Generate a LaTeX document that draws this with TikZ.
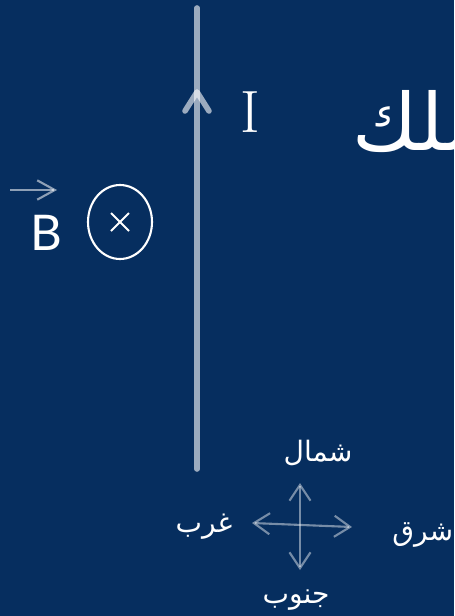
\documentclass[tikz,border=0pt]{standalone}
\usepackage{fontspec}
\usetikzlibrary{arrows.meta, shapes.geometric, positioning}
\TeXXeTstate=1
\newfontfamily\arabicfont[Script=Arabic]{DejaVu Sans}
\newfontfamily\latinsans{Lato}
\definecolor{navy-bg}{HTML}{062E5F}

\begin{document}
\begin{tikzpicture}[x=0.02cm, y=-0.02cm,
    wire/.style={white, opacity=0.6, line width=3.2pt, line cap=round, line join=round},
    compass/.style={white, opacity=0.45, line width=1.2pt,
      {Straight Barb[length=9pt, width=12pt]}-{Straight Barb[length=9pt, width=12pt]}},
    dirlabel/.style={text=white, font=\arabicfont\fontsize{16}{19}\selectfont, inner sep=0pt}]
  \fill[navy-bg] (0,0) rectangle (454,616);
  \clip (0,0) rectangle (454,616);

  % wire and current
  \coordinate (wiretop) at (197,8);
  \coordinate (wirebot) at (197,469);
  \draw[wire] (wiretop) -- (wirebot);
  \coordinate (Itip) at (197,92);
  \draw[wire] (Itip) ++(-12,19) -- (Itip) -- ++(12,19);
  \node[text=white, font=\fontsize{34}{36}\selectfont, inner sep=0pt] (Ilabel) at (250,112) {I};
  \node[text=white, font=\arabicfont\fontsize{45}{50}\selectfont, anchor=base west, inner sep=0pt]
    (wirelabel) at (352,150) {\beginR سلك\endR};

  % magnetic field into the page
  \node[draw=white, line width=1.2pt, ellipse, inner sep=0pt,
        minimum width=1.28cm, minimum height=1.48cm] (Bcirc) at (120,222) {};
  \draw[white, line width=1.1pt] (Bcirc.center) ++(-9,-9) -- ++(18,18);
  \draw[white, line width=1.1pt] (Bcirc.center) ++(-9,9) -- ++(18,-18);
  \node[text=white, font=\latinsans\fontsize{28}{30}\selectfont, inner sep=0pt] (Blabel) at (46,233) {B};
  \coordinate (vecstart) at (10,190);
  \coordinate (vecend) at (57,190);
  \draw[white, opacity=0.55, line width=1.2pt, -{Straight Barb[length=10pt, width=11pt]}] (vecstart) -- (vecend);

  % compass
  \coordinate (cN) at (300,483);
  \coordinate (cS) at (300,570);
  \coordinate (cW) at (252,523);
  \coordinate (cE) at (352,527);
  \draw[compass] (cS) -- (cN);
  \draw[compass] (cW) -- (cE);
  \node[dirlabel] (north) at (318,453) {\beginR شمال\endR};
  \node[dirlabel] (south) at (296,600) {\beginR جنوب\endR};
  \node[dirlabel] (west) at (204,527) {\beginR غرب\endR};
  \node[dirlabel, anchor=west] (east) at (392,535) {\beginR شرق\endR};
\end{tikzpicture}
\end{document}
